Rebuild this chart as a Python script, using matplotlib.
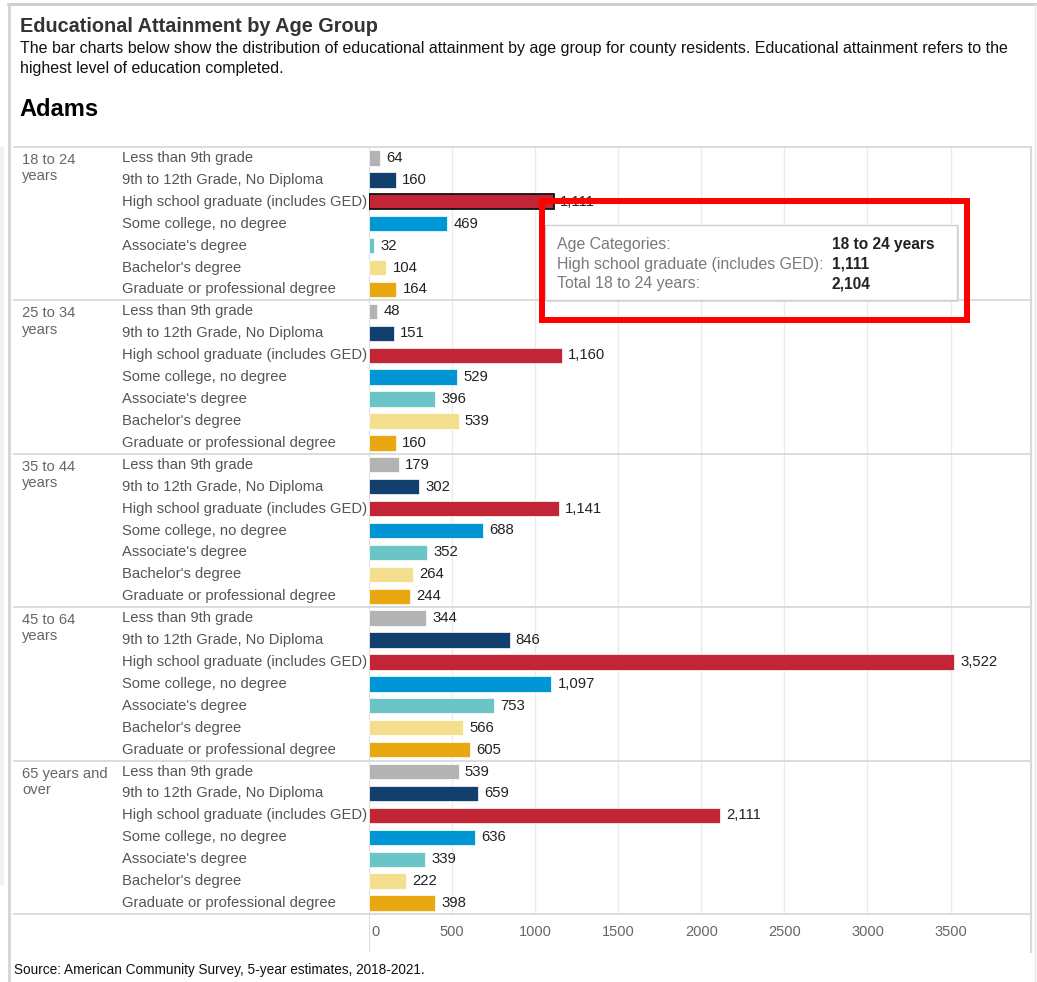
import matplotlib
matplotlib.use("Agg")
import matplotlib.pyplot as plt
from matplotlib.patches import Rectangle
from matplotlib.transforms import blended_transform_factory

plt.rcParams['font.family'] = ['Liberation Sans', 'DejaVu Sans']

# data
age_groups = ["18 to 24\nyears", "25 to 34\nyears", "35 to 44\nyears",
              "45 to 64\nyears", "65 years and\nover"]
levels = ["Less than 9th grade", "9th to 12th Grade, No Diploma",
          "High school graduate (includes GED)", "Some college, no degree",
          "Associate's degree", "Bachelor's degree", "Graduate or professional degree"]
level_colors = ["#b3b3b3", "#133f6e", "#c22535", "#0096d6", "#6bc4c5", "#f4df8f", "#e9a712"]
counts_18_24 = [64, 160, 1111, 469, 32, 104, 164]
counts_25_34 = [48, 151, 1160, 529, 396, 539, 160]
counts_35_44 = [179, 302, 1141, 688, 352, 264, 244]
counts_45_64 = [344, 846, 3522, 1097, 753, 566, 605]
counts_65_up = [539, 659, 2111, 636, 339, 222, 398]
all_counts = [counts_18_24, counts_25_34, counts_35_44, counts_45_64, counts_65_up]
x_ticks = [0, 500, 1000, 1500, 2000, 2500, 3000, 3500]

tip_labels = ["Age Categories:", "High school graduate (includes GED):", "Total 18 to 24 years:"]
tip_values = ["18 to 24 years", "1,111", "2,104"]

W, H = 1037, 982
def fx(px):
    return px / W
def fy(py):
    return 1 - py / H

fig = plt.figure(figsize=(W / 100, H / 100), dpi=100)

# header
fig.text(fx(20), fy(26), "Educational Attainment by Age Group", fontsize=14.3,
         fontweight='bold', color='#333333', va='center')
fig.text(fx(20), fy(49), "The bar charts below show the distribution of educational attainment by age group "
         "for county residents. Educational attainment refers to the", fontsize=11.55, color='#111111', va='center')
fig.text(fx(20), fy(69), "highest level of education completed.", fontsize=11.55, color='#111111', va='center')
fig.text(fx(19), fy(110), "Adams", fontsize=17, fontweight='bold', color='#000000', va='center')
fig.text(fx(14), fy(970), "Source: American Community Survey, 5-year estimates, 2018-2021.",
         fontsize=9.8, color='#111111', va='center')

# bar panel
row_px = (914 - 147) / 35
ax = fig.add_axes([fx(369), fy(952), fx(1031) - fx(369), (952 - 147) / H])
x_max = (1031 - 369) / ((950.5 - 369) / 3500)
ax.set_xlim(0, x_max)
ax.set_ylim((952 - 147) / row_px, 0)
ax.axis('off')

blend = blended_transform_factory(fig.transFigure, ax.transData)

ax.vlines(x_ticks[1:], 0, 35, color='#ebebeb', lw=1, zorder=0)
ax.axvline(0, color='#d4d4d4', lw=1.2, zorder=0)

for g, counts in enumerate(all_counts):
    ys = [g * 7 + i + 0.5 for i in range(len(levels))]
    bars = ax.barh(ys, counts, height=0.7, color=level_colors, edgecolor='white', lw=0.5, zorder=2)
    if g == 0:
        bars[2].set_edgecolor('#111111')
        bars[2].set_linewidth(1.3)
    for y, v, name in zip(ys, counts, levels):
        ax.annotate(f"{v:,}", (v, y), xytext=(4.5, 0), textcoords='offset points',
                    va='center', ha='left', fontsize=10.7, color='#222222')
        ax.text(fx(122), y, name, transform=blend, va='center', ha='left',
                fontsize=10.65, color='#555555')
    ax.text(fx(22), g * 7 + 0.27, age_groups[g], transform=blend, va='top', ha='left',
            fontsize=10.6, color='#666666', linespacing=1.2)

# group separators
for b in range(0, 36, 7):
    ax.plot([fx(14), fx(1031)], [b, b], transform=blend, color='#d9d9d9', lw=1.3,
            clip_on=False, zorder=1)

# x tick labels
for t in x_ticks:
    if t == 0:
        ax.annotate("0", (0, 35.82), xytext=(2, 0), textcoords='offset points',
                    va='center', ha='left', fontsize=10.5, color='#666666')
    else:
        ax.text(t, 35.82, str(t), va='center', ha='center', fontsize=10.5, color='#666666')

# panel right border
fig.add_artist(plt.Line2D([fx(1031), fx(1031)], [fy(147), fy(952)], color='#d9d9d9', lw=1.5))

# outer frame
fig.add_artist(plt.Line2D([fx(8), fx(1037)], [fy(4), fy(4)], color='#cccccc', lw=2))
fig.add_artist(plt.Line2D([fx(9), fx(9)], [fy(4), fy(982)], color='#d4d4d4', lw=2))
fig.add_artist(plt.Line2D([fx(1035), fx(1035)], [fy(4), fy(982)], color='#e6e6e6', lw=1))
fig.add_artist(Rectangle((0, fy(885)), fx(4), (885 - 147) / H, transform=fig.transFigure,
                         facecolor='#f0f0f0', edgecolor='none'))

# tooltip
fig.add_artist(Rectangle((fx(547), fy(302)), fx(957) - fx(545), (302 - 225) / H,
                         transform=fig.transFigure, facecolor='#e0e0e0', edgecolor='none', zorder=5))
fig.add_artist(Rectangle((fx(545), fy(300)), fx(957) - fx(545), (300 - 225) / H,
                         transform=fig.transFigure, facecolor='white', edgecolor='#cfcfcf',
                         lw=1, zorder=6))
for i, (lab, val) in enumerate(zip(tip_labels, tip_values)):
    yy = fy(244 + i * 20)
    fig.text(fx(557), yy, lab, fontsize=11.4, color='#7a7a7a', va='center', zorder=7)
    fig.text(fx(832), yy, val, fontsize=11.2, color='#222222', fontweight='bold', va='center', zorder=7)

# red highlight box
fig.add_artist(Rectangle((fx(542), fy(320)), fx(967) - fx(542), (320 - 201) / H,
                         transform=fig.transFigure, fill=False, edgecolor='#ff0000',
                         lw=4.3, zorder=10))

fig.savefig("out.png", dpi=100)
